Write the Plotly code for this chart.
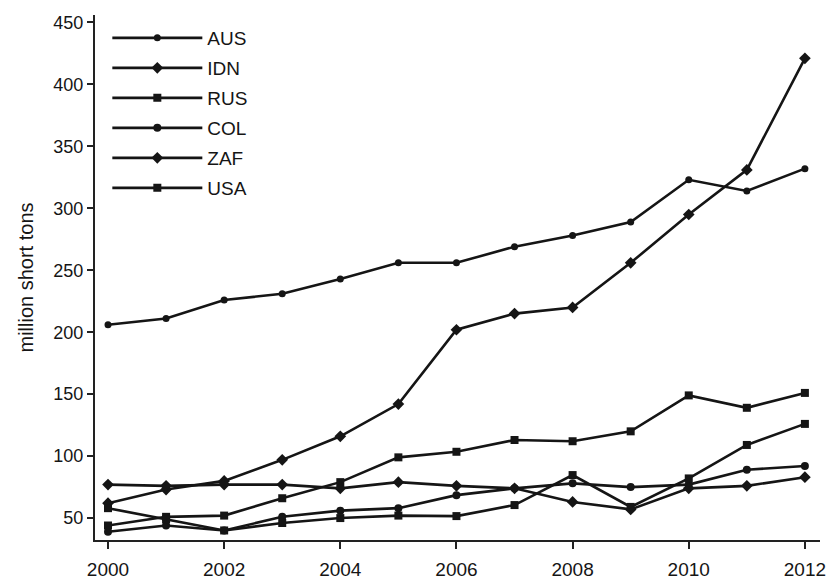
import plotly.graph_objects as go

# Coal exports by country, million short tons
years = list(range(2000, 2013))
aus = [206, 211, 226, 231, 243, 256, 256, 269, 278, 289, 323, 314, 332]
idn = [62, 73, 80, 97, 116, 142, 202, 215, 220, 256, 295, 331, 421]
rus = [44, 51, 52, 66, 79, 99, 103.5, 113, 112, 120, 149, 139, 151]
col = [39, 44, 40, 51, 56, 58, 68.5, 74, 78, 75, 77, 89, 92]
zaf = [77, 76, 77, 77, 74, 79, 76, 74, 63, 57, 74, 76, 83]
usa = [58, 49, 40, 46, 50, 52, 51.6, 60.5, 84.7, 59, 82, 109, 126]

names = ["AUS", "IDN", "RUS", "COL", "ZAF", "USA"]
series = [aus, idn, rus, col, zaf, usa]
symbols = ["circle", "diamond", "square", "circle", "diamond", "square"]
sizes = [7, 9, 8, 8, 9, 8]

y_ticks = [50, 100, 150, 200, 250, 300, 350, 400, 450]
x_ticks = [2000, 2002, 2004, 2006, 2008, 2010, 2012]

FONT = "Liberation Sans, Arial, sans-serif"
INK = "#151515"
fig = go.Figure()

legend_ids = ["legend"] + [f"legend{i}" for i in range(2, 7)]
for i, (name, vals) in enumerate(zip(names, series)):
    fig.add_trace(go.Scatter(
        x=years, y=vals, name=name, mode="lines+markers",
        line=dict(color=INK, width=2.6),
        marker=dict(symbol=symbols[i], size=sizes[i], color=INK),
        legend=legend_ids[i],
    ))

# one single-entry legend per series, stacked in the upper-left corner
row_px = [38, 68, 98, 128, 158, 188]
plot_top, plot_h = 15, 525
legend_layout = {}
for lid, py in zip(legend_ids, row_px):
    legend_layout[lid] = dict(
        x=0.017, xanchor="left",
        y=1 - (py - plot_top) / plot_h, yanchor="middle",
        bgcolor="rgba(0,0,0,0)", borderwidth=0,
        itemwidth=90,
        font=dict(family=FONT, size=19, color=INK),
    )

fig.update_layout(
    width=837, height=581,
    margin=dict(l=95, r=17, t=15, b=41),
    paper_bgcolor="white", plot_bgcolor="white",
    showlegend=True,
    font=dict(family=FONT, color=INK),
    **legend_layout,
)

fig.update_xaxes(
    range=[1999.776, 2012.26],
    tickmode="array", tickvals=x_ticks, ticktext=[str(t) for t in x_ticks],
    ticks="outside", ticklen=7, tickwidth=1.5, tickcolor="#222222",
    ticklabelstandoff=4,
    showline=True, linecolor="#222222", linewidth=2,
    showgrid=False, zeroline=False, automargin=False,
    tickfont=dict(family=FONT, size=19, color=INK),
)
fig.update_yaxes(
    range=[32.3, 456],
    tickmode="array", tickvals=y_ticks, ticktext=[str(t) for t in y_ticks],
    ticks="outside", ticklen=6, tickwidth=1.5, tickcolor="#222222",
    showline=True, linecolor="#222222", linewidth=2,
    showgrid=False, zeroline=False, automargin=False,
    tickfont=dict(family=FONT, size=18, color=INK),
    title=dict(text="million short tons", font=dict(family=FONT, size=20, color=INK), standoff=14),
)

fig.write_html("out.html")
